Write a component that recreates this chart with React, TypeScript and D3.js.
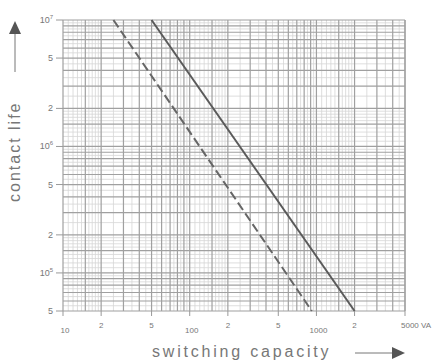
import React, { useEffect, useRef } from "react";
import * as d3 from "d3";

// axis ticks
const xTicks = [10, 20, 50, 100, 200, 500, 1000, 2000, 5000];
const xTickLabels = ["10", "2", "5", "100", "2", "5", "1000", "2", "5000 VA"];
const yTicks = [1e7, 5e6, 2e6, 1e6, 5e5, 2e5, 1e5, 5e4];
const yTickLabels = ["10|7", "5", "2", "10|6", "5", "2", "10|5", "5"];

// the two life curves (straight in log-log)
const solidLine = [
  { va: 50, life: 1e7 },
  { va: 2000, life: 5e4 },
];
const dashedLine = [
  { va: 25, life: 1e7 },
  { va: 920, life: 5e4 },
];

const mainSteps = [1, 1.5, 2, 3, 4, 5, 6, 7, 8, 9];
const fineSteps = [1.1, 1.2, 1.3, 1.4, 1.6, 1.7, 1.8, 1.9, 2.5, 3.5, 4.5, 5.5, 6.5, 7.5, 8.5, 9.5];

const App = () => {
  const ref = useRef<SVGSVGElement>(null);

  useEffect(() => {
    const width = 443;
    const height = 364;
    const margin = { top: 20, right: 38, bottom: 53, left: 63 };

    const svg = d3.select(ref.current);
    svg.selectAll("*").remove();
    svg.attr("width", width).attr("height", height);

    const x = d3
      .scaleLog()
      .domain([10, 5000])
      .range([margin.left, width - margin.right]);
    const y = d3
      .scaleLog()
      .domain([5e4, 1e7])
      .range([height - margin.bottom, margin.top]);

    const inX = (v: number) => v >= 10 - 1e-9 && v <= 5000 + 1e-9;
    const inY = (v: number) => v >= 5e4 - 1e-6 && v <= 1e7 + 1e-6;

    const xDecades = [10, 100, 1000];
    const yDecades = [1e4, 1e5, 1e6];

    const gridVals = (decades: number[], steps: number[], ok: (v: number) => boolean) =>
      decades.flatMap((d) => steps.map((s) => d * s)).filter(ok);

    const grid = svg.append("g");

    // fine texture lines
    grid
      .selectAll(".fx")
      .data(gridVals(xDecades, fineSteps, inX))
      .join("line")
      .attr("x1", (d) => x(d))
      .attr("x2", (d) => x(d))
      .attr("y1", y(1e7))
      .attr("y2", y(5e4))
      .attr("stroke", "#d6d6d6")
      .attr("stroke-width", 0.8);
    grid
      .selectAll(".fy")
      .data(gridVals(yDecades, fineSteps, inY))
      .join("line")
      .attr("y1", (d) => y(d))
      .attr("y2", (d) => y(d))
      .attr("x1", x(10))
      .attr("x2", x(5000))
      .attr("stroke", "#d6d6d6")
      .attr("stroke-width", 0.8);

    // main lines
    grid
      .selectAll(".mx")
      .data(gridVals(xDecades, mainSteps, inX).concat([5000]))
      .join("line")
      .attr("x1", (d) => x(d))
      .attr("x2", (d) => x(d))
      .attr("y1", y(1e7))
      .attr("y2", y(5e4))
      .attr("stroke", "#a0a0a0")
      .attr("stroke-width", 1.2);
    grid
      .selectAll(".my")
      .data(gridVals(yDecades, mainSteps, inY).concat([1e7]))
      .join("line")
      .attr("y1", (d) => y(d))
      .attr("y2", (d) => y(d))
      .attr("x1", x(10))
      .attr("x2", x(5000))
      .attr("stroke", "#a0a0a0")
      .attr("stroke-width", 1.2);

    const labelColor = "#777";
    const font = "'Liberation Sans', Arial, sans-serif";

    // x ticks
    const xg = svg.append("g");
    xTicks.forEach((t, i) => {
      const px = x(t);
      xg.append("line")
        .attr("x1", px)
        .attr("x2", px)
        .attr("y1", y(5e4))
        .attr("y2", y(5e4) + 5)
        .attr("stroke", "#999");
      const label = xTickLabels[i];
      const big = label.length > 1 && label !== "5000 VA";
      xg.append("text")
        .attr("x", label === "5000 VA" ? px - 4 : px + (big ? 2 : 0))
        .attr("y", big ? 333 : 328)
        .attr("text-anchor", label === "5000 VA" ? "start" : "middle")
        .attr("fill", labelColor)
        .style("font-family", font)
        .style("font-size", "8px")
        .text(label);
    });

    // y ticks
    const yg = svg.append("g");
    yTicks.forEach((t, i) => {
      const py = y(t);
      yg.append("line")
        .attr("x1", x(10) - 7)
        .attr("x2", x(10))
        .attr("y1", py)
        .attr("y2", py)
        .attr("stroke", "#999");
      const [base, sup] = yTickLabels[i].split("|");
      const txt = yg
        .append("text")
        .attr("x", 53)
        .attr("y", py + 3)
        .attr("text-anchor", "end")
        .attr("fill", labelColor)
        .style("font-family", font)
        .style("font-size", "9px");
      txt.append("tspan").text(base);
      if (sup) {
        txt.append("tspan").attr("dy", -4).style("font-size", "6px").text(sup);
      }
    });

    // curves
    const line = d3
      .line<{ va: number; life: number }>()
      .x((d) => x(d.va))
      .y((d) => y(d.life));

    svg
      .append("path")
      .attr("d", line(dashedLine))
      .attr("fill", "none")
      .attr("stroke", "#666")
      .attr("stroke-width", 2)
      .attr("stroke-dasharray", "9,4");
    svg
      .append("path")
      .attr("d", line(solidLine))
      .attr("fill", "none")
      .attr("stroke", "#5a5a5a")
      .attr("stroke-width", 2);

    // x title with arrow
    svg
      .append("text")
      .attr("x", 152)
      .attr("y", 357)
      .attr("fill", labelColor)
      .style("font-family", font)
      .style("font-size", "16px")
      .style("letter-spacing", "2.8px")
      .text("switching capacity");
    svg
      .append("line")
      .attr("x1", 355)
      .attr("x2", 394)
      .attr("y1", 353)
      .attr("y2", 353)
      .attr("stroke", "#777");
    svg
      .append("path")
      .attr("d", "M392,347 L405,353 L392,359 Z")
      .attr("fill", "#555");

    // y title with arrow
    svg
      .append("text")
      .attr("transform", "translate(20,202) rotate(-90)")
      .attr("fill", labelColor)
      .style("font-family", font)
      .style("font-size", "16px")
      .style("letter-spacing", "2px")
      .text("contact life");
    svg
      .append("line")
      .attr("x1", 15)
      .attr("x2", 15)
      .attr("y1", 72)
      .attr("y2", 34)
      .attr("stroke", "#777");
    svg
      .append("path")
      .attr("d", "M9,34 L15,21 L21,34 Z")
      .attr("fill", "#555");
  }, []);

  return (
    <svg
      ref={ref}
      style={{ position: "absolute", left: 0, top: 0, background: "#fff" }}
    ></svg>
  );
};

export default App;
